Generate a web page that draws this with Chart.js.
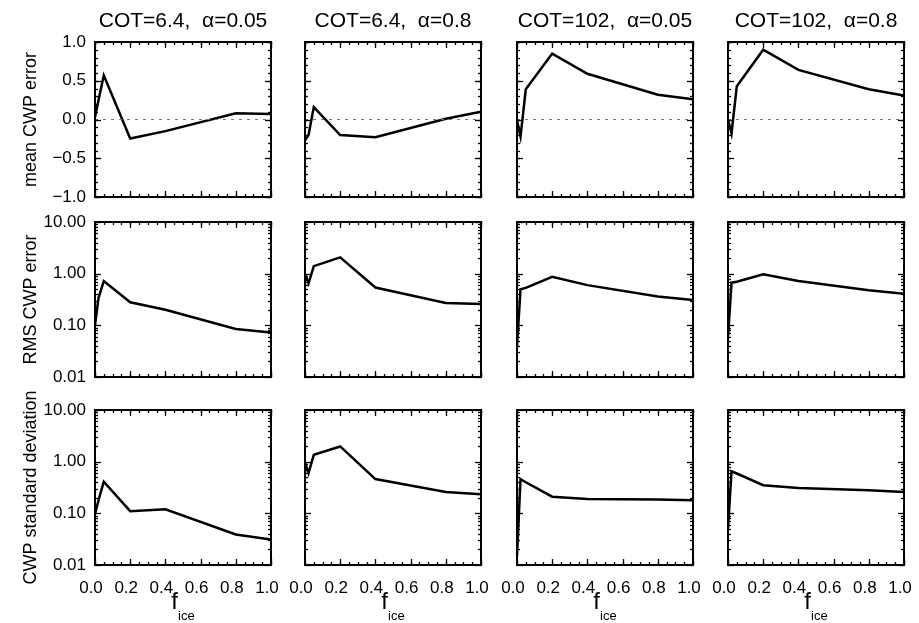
<!DOCTYPE html>
<html>
<head>
<meta charset="utf-8">
<script src="https://cdn.jsdelivr.net/npm/chart.js@4"></script>
<style>
  body { margin: 0; background: #fff; width: 919px; height: 623px; overflow: hidden; position: relative; }
  canvas { position: absolute; }
</style>
</head>
<body>
<script>
// ice fraction sample points
const fIce = [0, 0.02, 0.05, 0.2, 0.4, 0.8, 1.0];

const panelTitles = ['COT=6.4,  \u03b1=0.05', 'COT=6.4,  \u03b1=0.8', 'COT=102,  \u03b1=0.05', 'COT=102,  \u03b1=0.8'];
const rowTitles = ['mean CWP error', 'RMS CWP error', 'CWP standard deviation'];

const xTicks = [0, 0.2, 0.4, 0.6, 0.8, 1.0];
const meanTicks = [-1, -0.5, 0, 0.5, 1];
const logTicks = [0.01, 0.1, 1, 10];
const zeroLevel = 0;

// one list per column (COT/alpha case)
const meanErr = [
  [0.03, 0.25, 0.57, -0.245, -0.15, 0.08, 0.07],
  [-0.27, -0.2, 0.16, -0.2, -0.23, 0.01, 0.10],
  [-0.01, -0.22, 0.39, 0.85, 0.59, 0.32, 0.26],
  [0.0, -0.18, 0.43, 0.90, 0.64, 0.39, 0.31]
];
const rmsErr = [
  [0.10, 0.34, 0.72, 0.28, 0.20, 0.085, 0.073],
  [1.0, 0.65, 1.4, 2.07, 0.54, 0.27, 0.26],
  [0.04, 0.50, 0.53, 0.87, 0.60, 0.36, 0.31],
  [0.06, 0.67, 0.70, 0.97, 0.72, 0.48, 0.41]
];
const stdDev = [
  [0.097, 0.18, 0.41, 0.11, 0.12, 0.039, 0.031],
  [0.97, 0.60, 1.36, 1.97, 0.46, 0.26, 0.235],
  [0.015, 0.46, 0.40, 0.21, 0.19, 0.185, 0.18],
  [0.05, 0.65, 0.59, 0.35, 0.31, 0.28, 0.26]
];
const rows = [meanErr, rmsErr, stdDev];

// layout of the 3x4 grid
const colLeft = [95, 305, 517, 728];
const rowTop = [42, 222, 410];
const plotW = 176, plotH = 155;
const padL = 95, padT = 42, padR = 26, padB = 58;

Chart.defaults.font.family = '"Liberation Sans", Arial, sans-serif';
Chart.defaults.color = '#000';

const xMinor = [];
for (let i = 0; i <= 20; i++) xMinor.push(i * 0.05);
const meanMinor = [];
for (let i = -10; i <= 10; i++) meanMinor.push(i / 10);
const logMinor = [];
[0.01, 0.1, 1].forEach(d => { for (let k = 2; k <= 9; k++) logMinor.push(d * k); });

// IDL style box with inward ticks on all four sides
const idlFrame = {
  id: 'idlFrame',
  afterDatasetsDraw(chart) {
    const { ctx, chartArea: a, scales: { x, y } } = chart;
    const isLog = y.type === 'logarithmic';
    ctx.save();
    ctx.strokeStyle = '#000';
    ctx.lineWidth = 1.3;
    const seg = (x1, y1, x2, y2) => { ctx.beginPath(); ctx.moveTo(x1, y1); ctx.lineTo(x2, y2); ctx.stroke(); };
    const xt = (vals, len) => vals.forEach(v => {
      const p = Math.round(x.getPixelForValue(v)) + 0.5;
      seg(p, a.bottom, p, a.bottom - len);
      seg(p, a.top, p, a.top + len);
    });
    const yt = (vals, len) => vals.forEach(v => {
      const p = Math.round(y.getPixelForValue(v)) + 0.5;
      seg(a.left, p, a.left + len, p);
      seg(a.right, p, a.right - len, p);
    });
    xt(xMinor, 3);
    xt(xTicks, 6);
    yt(isLog ? logMinor : meanMinor, 3);
    yt(isLog ? logTicks : meanTicks, 6);
    ctx.lineWidth = 2;
    ctx.strokeRect(a.left, a.top, a.width, a.height);
    ctx.restore();
  },
  afterDraw(chart, args, opts) {
    if (!opts.xLabel) return;
    const { ctx, chartArea: a } = chart;
    const cx = (a.left + a.right) / 2;
    ctx.save();
    ctx.fillStyle = '#000';
    ctx.textBaseline = 'alphabetic';
    ctx.font = '24px "Liberation Sans", Arial, sans-serif';
    ctx.textAlign = 'right';
    ctx.fillText('f', cx - 5, a.bottom + 44);
    ctx.font = '13px "Liberation Sans", Arial, sans-serif';
    ctx.textAlign = 'left';
    ctx.fillText('ice', cx - 5, a.bottom + 55);
    ctx.restore();
  }
};

rows.forEach((series, r) => {
  series.forEach((vals, c) => {
    const cv = document.createElement('canvas');
    cv.width = padL + plotW + padR;
    cv.height = padT + plotH + padB;
    cv.style.left = (colLeft[c] - padL) + 'px';
    cv.style.top = (rowTop[r] - padT) + 'px';
    document.body.appendChild(cv);

    const isLog = r > 0;
    const datasets = [{
      data: fIce.map((f, i) => ({ x: f, y: vals[i] })),
      borderColor: '#000',
      borderWidth: 2.5,
      pointRadius: 0,
      tension: 0
    }];
    if (!isLog) {
      datasets.unshift({
        data: [{ x: xTicks[0], y: zeroLevel }, { x: xTicks[xTicks.length - 1], y: zeroLevel }],
        borderColor: '#777',
        borderWidth: 1.2,
        borderDash: [3, 5],
        pointRadius: 0
      });
    }

    new Chart(cv, {
      type: 'line',
      data: { datasets },
      plugins: [idlFrame],
      options: {
        responsive: false,
        animation: false,
        events: [],
        layout: { padding: { left: 0, right: padR, top: r === 0 ? 0 : padT, bottom: 0 } },
        plugins: {
          legend: { display: false },
          tooltip: { enabled: false },
          title: {
            display: r === 0,
            fullSize: false,
            text: panelTitles[c],
            font: { size: 21, weight: 'normal' },
            color: '#000',
            padding: { top: 9, bottom: 7.8 }
          },
          idlFrame: { xLabel: r === 2 }
        },
        scales: {
          x: {
            type: 'linear',
            min: 0,
            max: 1,
            afterBuildTicks: s => { s.ticks = xTicks.map(v => ({ value: v })); },
            afterFit: s => { s.height = padB; },
            grid: { display: false, drawTicks: false },
            border: { display: false },
            ticks: {
              display: r === 2,
              autoSkip: false,
              maxRotation: 0,
              padding: 13,
              labelOffset: -4,
              font: { size: 17 },
              color: '#000',
              callback: v => v.toFixed(1)
            }
          },
          y: {
            type: isLog ? 'logarithmic' : 'linear',
            min: isLog ? logTicks[0] : meanTicks[0],
            max: isLog ? logTicks[logTicks.length - 1] : meanTicks[meanTicks.length - 1],
            afterBuildTicks: s => { s.ticks = (isLog ? logTicks : meanTicks).map(v => ({ value: v })); },
            afterFit: s => { s.width = padL; },
            grid: { display: false, drawTicks: false },
            border: { display: false },
            title: {
              display: c === 0,
              text: rowTitles[r],
              font: { size: 18 },
              color: '#000',
              padding: { top: 20, bottom: 0 }
            },
            ticks: {
              display: c === 0,
              autoSkip: false,
              padding: 9,
              font: { size: 17 },
              color: '#000',
              callback: v => {
                const s = isLog ? v.toFixed(2) : Math.abs(v).toFixed(1);
                return v < 0 ? '\u2212' + s : s;
              }
            }
          }
        }
      }
    });
  });
});
</script>
</body>
</html>
